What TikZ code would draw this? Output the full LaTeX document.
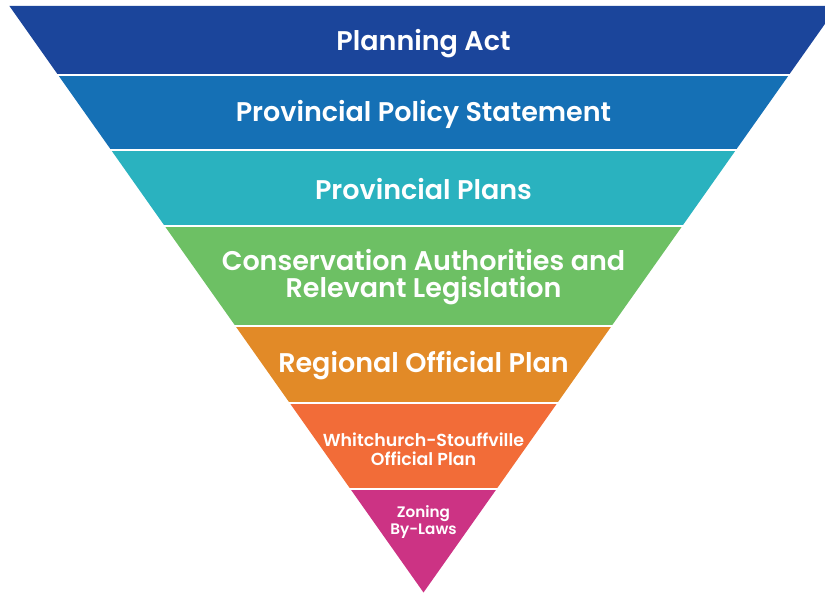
\documentclass[tikz,border=0pt]{standalone}
\usepackage{fontspec}
\setmainfont{Poppins}[BoldFont={Poppins SemiBold}]
\definecolor{cA}{HTML}{1B459B}
\definecolor{cB}{HTML}{1570B5}
\definecolor{cC}{HTML}{2AB2BF}
\definecolor{cD}{HTML}{6DC064}
\definecolor{cE}{HTML}{E28A27}
\definecolor{cF}{HTML}{F26C38}
\definecolor{cG}{HTML}{CC3384}
\tikzset{
  lbl/.style={text=white, font=\bfseries, align=center, inner sep=0pt},
  big/.style={lbl, font=\fontsize{27}{27}\selectfont\bfseries},
  mid/.style={lbl, font=\fontsize{17.4}{19}\selectfont\bfseries},
  sml/.style={lbl, font=\fontsize{15.2}{17}\selectfont\bfseries},
  gap/.style={white, line width=2.2pt}
}
\begin{document}
\begin{tikzpicture}[x=1pt,y=-1pt]
\useasboundingbox (0,0) rectangle (825,593);
\clip (0,0) rectangle (825,593);
\fill[cA] (9.4,6) -- (837.6,6) -- (788.9,75) -- (58.1,75) -- cycle;
\fill[cB] (58.1,75) -- (788.9,75) -- (735.9,150) -- (111.1,150) -- cycle;
\fill[cC] (111.1,150) -- (735.9,150) -- (682.3,226) -- (164.7,226) -- cycle;
\fill[cD] (164.7,226) -- (682.3,226) -- (611.6,326) -- (235.4,326) -- cycle;
\fill[cE] (235.4,326) -- (611.6,326) -- (557.3,403) -- (289.7,403) -- cycle;
\fill[cF] (289.7,403) -- (557.3,403) -- (496.6,489) -- (350.4,489) -- cycle;
\fill[cG] (350.4,489) -- (496.6,489) -- (423.5,592.5) -- cycle;
\foreach \yy in {75,150,226,326,403,489} \draw[gap] (0,\yy) -- (825,\yy);
\node[big] (t1) at (423.5,44) {Planning Act};
\node[big] (t2) at (423.5,114) {Provincial Policy Statement};
\node[big] (t3) at (423.5,189) {Provincial Plans};
\node[big] (t4) at (423.5,277) {Conservation Authorities and\\Relevant Legislation};
\node[big] (t5) at (423.5,366) {Regional Official Plan};
\node[mid] (t6) at (423.5,449) {Whitchurch-Stouffville\\Official Plan};
\node[sml] (t7) at (423.5,522) {Zoning\\By-Laws};
\end{tikzpicture}
\end{document}
